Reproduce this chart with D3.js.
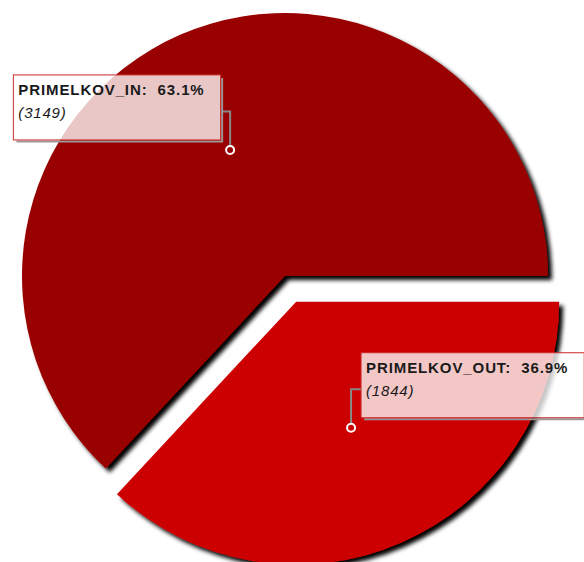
<!DOCTYPE html>
<html>
<head>
<meta charset="utf-8">
<script src="https://cdn.jsdelivr.net/npm/d3@7"></script>
<style>
    body { margin: 0; background: #fff; }
    svg { display: block; }
    text { font-family: "Liberation Sans", Arial, sans-serif; fill: #1a1a1a; }
</style>
</head>
<body>
<div id="chart"></div>
<script>
// chart data
var categories = ["PRIMELKOV_IN", "PRIMELKOV_OUT"];
var values = [3149, 1844];
var colors = ["#990000", "#cc0000"];
var exploded = [0, 28];

var width = 584,
    height = 562,
    radius = 263,
    cx = 285,
    cy = 276;

var svg = d3.select("#chart").append("svg")
    .attr("width", width)
    .attr("height", height);

var defs = svg.append("defs");

// slice shadow
defs.append("filter")
    .attr("id", "shadow")
    .attr("x", "-10%").attr("y", "-10%")
    .attr("width", "130%").attr("height", "130%")
    .append("feDropShadow")
    .attr("dx", 4).attr("dy", 4)
    .attr("stdDeviation", 2)
    .attr("flood-color", "#000")
    .attr("flood-opacity", 1);

var rows = categories.map((c, i) => ({ name: c, value: values[i], color: colors[i], explode: exploded[i] }));
var total = d3.sum(values);

// first slice ends at 3 o'clock
var start = Math.PI / 2 - 2 * Math.PI * values[0] / total;

var pie = d3.pie()
    .sort(null)
    .value(d => d.value)
    .startAngle(start)
    .endAngle(start + 2 * Math.PI);

var arcs = pie(rows);

var arc = d3.arc().innerRadius(0).outerRadius(radius);
var labelArc = d3.arc().innerRadius(137.5).outerRadius(137.5);

function offset(d) {
    var mid = (d.startAngle + d.endAngle) / 2;
    return [Math.sin(mid) * d.data.explode, -Math.cos(mid) * d.data.explode];
}

var g = svg.append("g")
    .attr("transform", "translate(" + cx + "," + cy + ")");

// slices
g.selectAll(".slice")
    .data(arcs)
    .enter().append("path")
    .attr("class", "slice")
    .attr("d", arc)
    .attr("fill", d => d.data.color)
    .attr("filter", "url(#shadow)")
    .attr("transform", d => "translate(" + offset(d) + ")");

var pct = d3.format(".1%");

// labels
arcs.forEach(d => {
    var o = offset(d);
    var c = labelArc.centroid(d);
    var px = c[0] + o[0],
        py = c[1] + o[1];
    var left = px < 0;

    var lab = g.append("g");

    var box = lab.append("g");
    var txt = box.append("text")
        .attr("x", 5)
        .attr("y", 20)
        .style("font-weight", "bold")
        .style("font-size", "15px")
        .style("letter-spacing", "0.9px");
    txt.append("tspan")
        .text(d.data.name + ":");
    txt.append("tspan")
        .attr("dx", 10)
        .text(pct(d.data.value / total));
    box.append("text")
        .attr("x", 5)
        .attr("y", 43.5)
        .style("font-style", "italic")
        .style("font-size", "15px")
        .style("letter-spacing", "0.8px")
        .text("(" + d.data.value + ")");

    var w = txt.node().getBBox().width + 21,
        h = 65;

    // small grey shadow on right and bottom edges
    box.insert("path", "text")
        .attr("d", "M" + (w + 1.5) + ",3V" + (h + 1.5) + "H3")
        .attr("fill", "none")
        .attr("stroke", "#999")
        .attr("stroke-width", 2);

    box.insert("rect", "text")
        .attr("width", w)
        .attr("height", h)
        .attr("fill", "#fff")
        .attr("fill-opacity", 0.78)
        .attr("stroke", "#cc2a2a")
        .attr("stroke-width", 1);

    var bx = left ? px - 9.5 - w : px + 10,
        by = py - 75;
    box.attr("transform", "translate(" + bx + "," + by + ")");

    // connector
    var edge = left ? bx + w : bx;
    lab.insert("path", "g")
        .attr("d", "M" + px + "," + (py - 4) + "V" + (py - 38.5) + "H" + edge)
        .attr("fill", "none")
        .attr("stroke", "#888")
        .attr("stroke-width", 2);

    lab.append("circle")
        .attr("cx", px)
        .attr("cy", py)
        .attr("r", 4)
        .attr("fill", d.data.color)
        .attr("stroke", "#fff")
        .attr("stroke-width", 2);
});
</script>
</body>
</html>
